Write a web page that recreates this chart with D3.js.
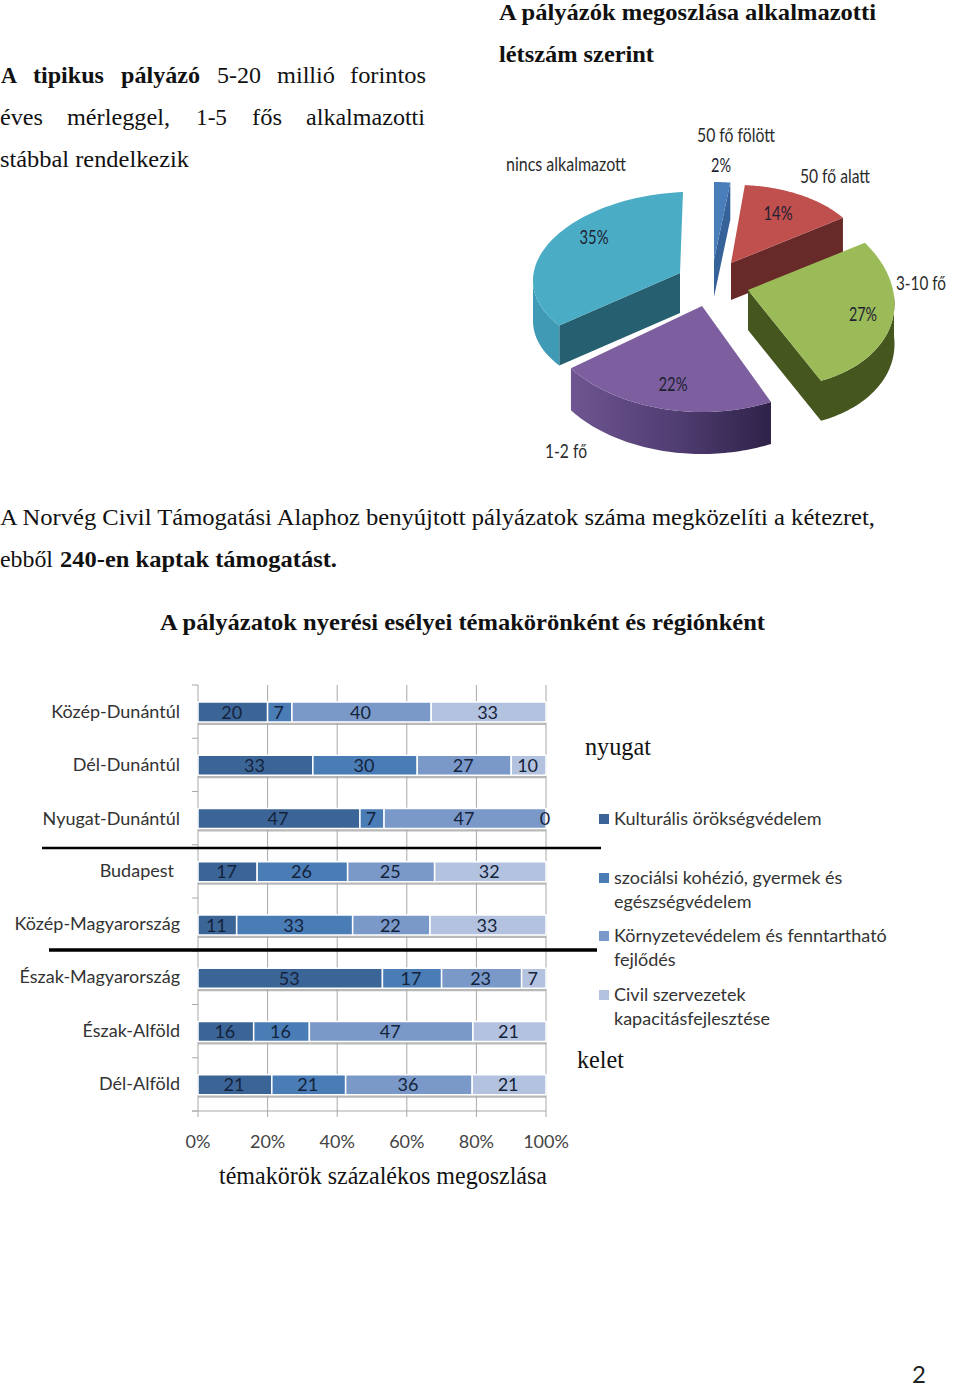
<!DOCTYPE html>
<html><head><meta charset="utf-8">
<script src="https://cdn.jsdelivr.net/npm/d3@7"></script>
<style>html,body{margin:0;padding:0;background:#fff}svg{display:block}</style>
</head><body><svg id="c" width="960" height="1387"></svg>
<script>
const pieLabels=["50 fő fölött","50 fő alatt","3-10 fő","1-2 fő","nincs alkalmazott"];
const pieValues=[2,14,27,22,35];
const regions=["Közép-Dunántúl","Dél-Dunántúl","Nyugat-Dunántúl","Budapest","Közép-Magyarország","Észak-Magyarország","Észak-Alföld","Dél-Alföld"];
const culture=[20,33,47,17,11,53,16,21];
const social=[7,30,7,26,33,17,16,21];
const environment=[40,27,47,25,22,23,47,36];
const civil=[33,10,0,32,33,7,21,21];
const seriesNames=["Kulturális örökségvédelem","szociálsi kohézió, gyermek és egészségvédelem","Környzetevédelem és fenntartható fejlődés","Civil szervezetek kapacitásfejlesztése"];
const xTicks=[0,20,40,60,80,100];
const svg=d3.select("#c");
const serif="'Liberation Serif',serif", sans="Lato,Carlito,sans-serif";
function T(x,y,s,o={}){const t=svg.append("text").attr("x",x).attr("y",y).text(s)
 .attr("font-family",o.f||serif).attr("font-size",o.s||24).attr("fill",o.c||"#111")
 .attr("font-weight",o.b?"bold":null).attr("text-anchor",o.a||"start");
 if(o.w)t.attr("textLength",o.w).attr("lengthAdjust","spacingAndGlyphs");return t;}
[[1,"A",16,1],[33,"tipikus",71,1],[121,"pályázó",79,1],[217,"5-20",44],[277,"millió",58],[350,"forintos",76]].forEach(p=>T(p[0],83,p[1],{w:p[2],b:p[3]}));
[[0,"éves",43],[67,"mérleggel,",103],[196,"1-5",31],[252,"fős",30],[306,"alkalmazotti",119]].forEach(p=>T(p[0],125,p[1],{w:p[2]}));
T(0,167,"stábbal rendelkezik",{w:189});
T(499,20,"A pályázók megoszlása alkalmazotti",{b:1,w:377});
T(499,62,"létszám szerint",{b:1,w:155});
T(0,525,"A Norvég Civil Támogatási Alaphoz benyújtott pályázatok száma megközelíti a kétezret,",{w:875});
T(0,567,"ebből",{w:53});
T(60,567,"240-en kaptak támogatást.",{b:1,w:277});
T(160,630,"A pályázatok nyerési esélyei témakörönként és régiónként",{b:1,w:605});

// ---------- 3D pie
const pieCols=[
 {top:"#4a7ebb",wall:"#4a7ebb",cut:"#36629a"},
 {top:"#c0504d",wall:"#672a28",cut:"#672a28"},
 {top:"#9bbb59",wall:"#46561f",cut:"#46561f"},
 {top:"#7d5fa0",wall:"url(#pw)",cut:"#3a2a55"},
 {top:"#4bacc6",wall:"#3f9ab5",cut:"#255f70"}];
// apex, ellipse radii, perspective skew (bx, dy) and wall depth of each exploded slice
const pieGeom=[
 {x:714,y:260,rx:130,ry:78,bx:0,dy:0,d:37},
 {x:731,y:263,rx:134.5,ry:78,bx:-3,dy:-4,d:37},
 {x:748,y:290,rx:146,ry:97.6,bx:-12,dy:6,d:40},
 {x:702,y:306,rx:162,ry:106,bx:0,dy:0,d:42},
 {x:680,y:273,rx:147,ry:81,bx:3,dy:-6,d:40}];
const defs=svg.append("defs");
const g=defs.append("linearGradient").attr("id","pw");
g.append("stop").attr("offset",0).attr("stop-color","#6f5591");
g.append("stop").attr("offset",.55).attr("stop-color","#4f3c70");
g.append("stop").attr("offset",1).attr("stop-color","#2e2248");
const arcs=d3.pie().sort(null).startAngle(0).endAngle(2*Math.PI)(pieValues);
const line=d3.line();
const pieG=svg.append("g");
arcs.forEach((a,i)=>{
 const G=pieGeom[i],C=pieCols[i];
 const P=(t,dz=0)=>[G.x+G.rx*Math.sin(t)+G.bx*Math.cos(t),G.y-G.ry*Math.cos(t)+G.dy*Math.sin(t)+dz];
 const ts=d3.range(0,61).map(k=>a.startAngle+(a.endAngle-a.startAngle)*k/60);
 const ap=[G.x,G.y],apB=[G.x,G.y+G.d];
 const grp=pieG.append("g");
 const cuts=i===3?[]:(i===4?[a.startAngle]:[a.endAngle]);
 cuts.forEach(t=>grp.append("path").attr("d",line([ap,P(t),P(t,G.d),apB])+"Z").attr("fill",C.cut));
 const vt=ts.filter(t=>Math.cos(t)<0.02);
 if(vt.length>1){
  grp.append("path").attr("d",line(vt.map(t=>P(t)).concat(vt.slice().reverse().map(t=>P(t,G.d))))+"Z").attr("fill",C.wall);
 }
 grp.append("path").attr("d",line([ap].concat(ts.map(t=>P(t))))+"Z").attr("fill",C.top);
});
const pctPos=[[721,172],[778,220],[863,321],[673,391],[594,244]];
arcs.forEach((a,i)=>{T(pctPos[i][0],pctPos[i][1],pieValues[i]+"%",{f:sans,s:19,a:"middle",c:"#1f1f33",w:[20,29,28,29,29][i]});});
const labPos=[[697,142,78],[800,183,70],[896,290,50],[545,458,42],[506,171,120]];
labPos.forEach((p,i)=>T(p[0],p[1],pieLabels[i],{f:sans,s:19,c:"#2b2b2b",w:p[2]}));

// ---------- stacked bars
const x=d3.scaleLinear().domain([0,100]).range([198,546]);
const y=d3.scaleBand().domain(regions).range([685,1111]);
const barCols=["#3c6597","#4a7cb6","#7a99c8","#b3c2de"];
const chart=svg.append("g");
const axisCol="#a9a9a9";
chart.append("g").selectAll("line").data(xTicks).join("line")
 .attr("x1",d=>x(d)).attr("x2",d=>x(d)).attr("y1",685).attr("y2",1117).attr("stroke",axisCol);
const bandEdges=regions.map(r=>y(r)).concat([y.range()[1]]);
chart.append("g").selectAll("line").data(bandEdges).join("line")
 .attr("x1",192).attr("x2",198).attr("y1",d=>d).attr("y2",d=>d).attr("stroke",axisCol);
chart.append("line").attr("x1",192).attr("x2",546).attr("y1",1111).attr("y2",1111).attr("stroke",axisCol);
const stack=[culture,social,environment,civil];
const barH=20, barOff=17;
regions.forEach((r,ri)=>{
 const by=y(r)+barOff;
 chart.append("rect").attr("x",x(0)).attr("y",by+barH).attr("width",x(100)-x(0)).attr("height",3).attr("fill","#a8a8a8").attr("opacity",.8);
 const tot=d3.sum(stack,s=>s[ri]);
 let cum=0;
 stack.forEach((s,si)=>{
  const v=s[ri], a=cum/tot*100, b=(cum+v)/tot*100; cum+=v;
  if(v>0)chart.append("rect").attr("x",x(a)).attr("y",by).attr("width",x(b)-x(a)).attr("height",barH).attr("fill",barCols[si]).attr("stroke","#fff").attr("stroke-width",1.5);
  T((v>0?(x(a)+x(b))/2:x(100))-1,by+16.5,v,{f:sans,s:18,a:"middle",c:"#14233c"});
 });
 T(r==="Budapest"?174:180,by+15+(ri<3?1:0),r,{f:sans,s:18,a:"end",c:"#333"});
});
xTicks.forEach(t=>T(x(t),1148,t+"%",{f:sans,s:18,a:"middle",c:"#444"}));
T(383,1184,"témakörök százalékos megoszlása",{a:"middle",s:25,w:328});
T(585,755,"nyugat",{s:25,w:66});
T(577,1068,"kelet",{s:25,w:47});
// separators
svg.append("line").attr("x1",42).attr("x2",601).attr("y1",848).attr("y2",848).attr("stroke","#000").attr("stroke-width",2.5);
svg.append("line").attr("x1",49).attr("x2",597).attr("y1",950).attr("y2",950).attr("stroke","#000").attr("stroke-width",3.5);
// legend
const legY=[819,878,936,995];
const legLines=[[seriesNames[0]],["szociálsi kohézió, gyermek és","egészségvédelem"],["Környzetevédelem és fenntartható","fejlődés"],["Civil szervezetek","kapacitásfejlesztése"]];
legY.forEach((ly,i)=>{
 svg.append("rect").attr("x",599).attr("y",ly-5).attr("width",10).attr("height",10).attr("fill",barCols[i]);
 legLines[i].forEach((l,k)=>T(614,ly+6+k*23.5,l,{f:sans,s:18,c:"#333"}));
});
T(919,1383,"2",{f:sans,s:24,a:"middle",c:"#222"});
</script></body></html>
